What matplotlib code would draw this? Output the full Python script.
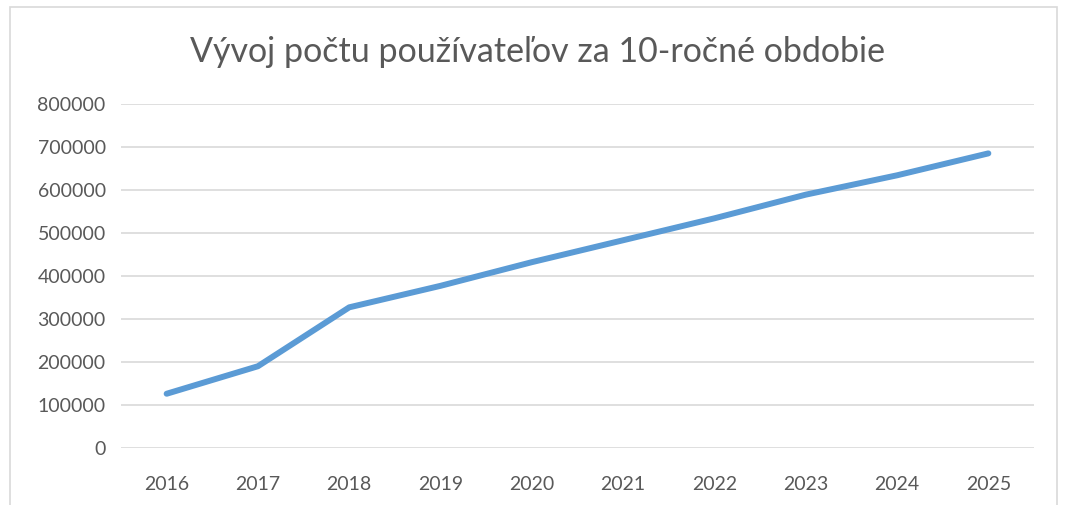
import matplotlib
matplotlib.use("Agg")
import matplotlib.pyplot as plt
from matplotlib.patches import Rectangle

years = ["2016", "2017", "2018", "2019", "2020", "2021", "2022", "2023", "2024", "2025"]
users = [125000, 189000, 326000, 376000, 431000, 482000, 533000, 588000, 633000, 684000]
yticks = [0, 100000, 200000, 300000, 400000, 500000, 600000, 700000, 800000]
title = "Vývoj počtu používateľov za 10-ročné obdobie"

plt.rcParams['font.family'] = ['Lato', 'DejaVu Sans']

fig = plt.figure(figsize=(10.66, 5.06), dpi=100)
fig.patch.set_facecolor("white")
fig.add_artist(Rectangle((10/1066, -0.05), 1047/1066, 1 - 8/506 + 0.05,
                         transform=fig.transFigure, fill=False,
                         edgecolor="#D9D9D9", linewidth=1.2))

ax = fig.add_axes([121/1066, 1 - 448.5/506, (1034-121)/1066, (448.5-104.5)/506])
x = list(range(len(years)))
ax.plot(x, users, color="#5B9BD5", linewidth=4.3, solid_capstyle="round",
        solid_joinstyle="round", zorder=3)
ax.set_xlim(-0.5, len(years) - 0.5)
ax.set_ylim(0, 800000)
ax.set_yticks(yticks)
ax.set_yticklabels([str(v) for v in yticks])
ax.set_xticks(x)
ax.set_xticklabels(years)
ax.grid(axis="y", color="#D9D9D9", linewidth=1.2)
ax.set_axisbelow(True)
for s in ax.spines.values():
    s.set_visible(False)
ax.tick_params(axis="both", length=0, colors="#595959", labelsize=14)
ax.tick_params(axis="y", pad=11)
ax.tick_params(axis="x", pad=20)

fig.text(538/1066, 1 - 52/506, title, ha="center", va="center",
         fontsize=24.5, color="#595959")

fig.savefig("out.png", dpi=100, facecolor="white")
